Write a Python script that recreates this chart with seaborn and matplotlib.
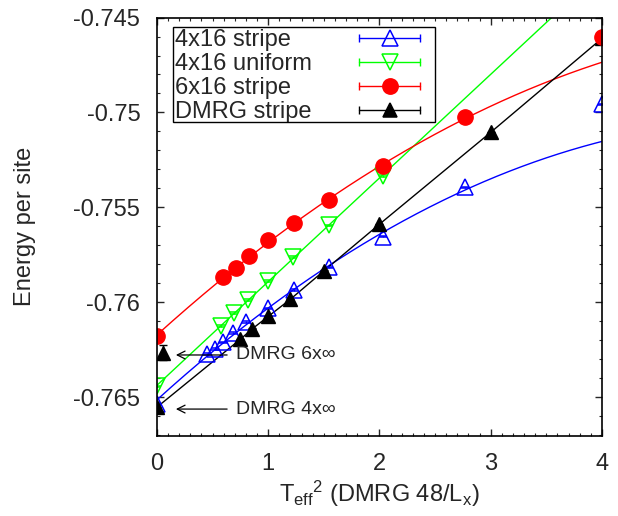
import numpy as np
import matplotlib
matplotlib.use("Agg")
import matplotlib.pyplot as plt
import seaborn as sns
from matplotlib.lines import Line2D
from matplotlib.patches import Rectangle
from matplotlib.ticker import MultipleLocator

# 4x16 stripe
stripe4_x = [0.0, 0.45, 0.52, 0.59, 0.68, 0.80, 1.0, 1.23, 1.55, 2.03, 2.77, 4.0]
stripe4_y = [-0.76537, -0.76274, -0.76247, -0.76211, -0.76163, -0.76105,
             -0.76033, -0.75935, -0.75817, -0.75654, -0.75395, -0.74958]
stripe4_err = [0.00004] * len(stripe4_x)

# 4x16 uniform
unif4_x = [0.0, 0.58, 0.69, 0.82, 1.0, 1.22, 1.55, 2.03]
unif4_y = [-0.76444, -0.76125, -0.76056, -0.75988, -0.75888, -0.75762, -0.75595, -0.75335]
unif4_err = [0.00004] * len(unif4_x)

# 6x16 stripe
stripe6_x = [0.0, 0.59, 0.71, 0.83, 1.0, 1.23, 1.55, 2.03, 2.77, 4.0]
stripe6_y = [-0.76179, -0.75868, -0.75821, -0.75758, -0.75674, -0.75584,
             -0.75463, -0.75284, -0.75026, -0.74600]
stripe6_err = [0.00004] * len(stripe6_x)

# DMRG stripe (x = 48/Lx)
dmrg_x = [0.0, 0.75, 0.857, 1.0, 1.2, 1.5, 2.0, 3.0, 4.0]
dmrg_y = [-0.76553, -0.76195, -0.76140, -0.76075, -0.75984, -0.75835, -0.75589, -0.75105, -0.74610]
dmrg_err = [0.00003] * len(dmrg_x)

# DMRG 6 x infinity
dmrg6_x = [0.05]
dmrg6_y = [-0.76265]
dmrg6_err = [0.0004]

labels = ["4x16 stripe", "4x16 uniform", "6x16 stripe", "DMRG stripe"]
blue, green, red = "#0000ff", "#00ff00", "#ff0000"

sns.set_style("ticks")
plt.rcParams['font.family'] = ['Liberation Sans', 'DejaVu Sans']
plt.rcParams['mathtext.default'] = 'regular'

fig = plt.figure(figsize=(6.18, 5.16), dpi=100)
ax = fig.add_axes([0.254, 0.155, 0.720, 0.811])

# fits through the data
xfit = np.linspace(0, 4, 400)
sx, sy = np.array(stripe4_x), np.array(stripe4_y)
blue_fit = np.polyval(np.polyfit(sx[sx < 3], sy[sx < 3], 2), xfit)
rx, ry = np.array(stripe6_x), np.array(stripe6_y)
red_fit = np.polyval(np.polyfit(rx[rx < 3], ry[rx < 3], 2), xfit)
green_fit = np.polyval(np.polyfit(unif4_x, unif4_y, 1), xfit)

sns.lineplot(x=xfit, y=blue_fit, color=blue, lw=1, ax=ax)
sns.lineplot(x=xfit, y=green_fit, color=green, lw=1, ax=ax)
sns.lineplot(x=xfit, y=red_fit, color=red, lw=1, ax=ax)
sns.lineplot(x=dmrg_x, y=dmrg_y, color="black", lw=1, ax=ax)

ebk = dict(ls="none", capsize=3, elinewidth=1, capthick=1)
ax.errorbar(stripe4_x, stripe4_y, yerr=stripe4_err, fmt="^", ms=11, mfc="none",
            mec=blue, mew=1.1, ecolor=blue, **ebk)
ax.errorbar(unif4_x, unif4_y, yerr=unif4_err, fmt="v", ms=11, mfc="none",
            mec=green, mew=1.1, ecolor=green, **ebk)
ax.errorbar(dmrg_x, dmrg_y, yerr=dmrg_err, fmt="^", ms=10, color="black", **ebk)
ax.errorbar(dmrg6_x, dmrg6_y, yerr=dmrg6_err, fmt="^", ms=10, color="black", **ebk)
ax.errorbar(stripe6_x, stripe6_y, yerr=stripe6_err, fmt="o", ms=11, color=red, **ebk)

ax.annotate("DMRG 6x\u221e", xy=(0.17, -0.76278), xytext=(0.71, -0.76278),
            fontsize=14, va="center",
            arrowprops=dict(arrowstyle="->", color="black", lw=0.9, shrinkA=4, shrinkB=0))
ax.annotate("DMRG 4x\u221e", xy=(0.17, -0.76563), xytext=(0.71, -0.76563),
            fontsize=14, va="center",
            arrowprops=dict(arrowstyle="->", color="black", lw=0.9, shrinkA=4, shrinkB=0))

ax.set_xlim(0, 4)
ax.set_ylim(-0.76705, -0.745)
ax.set_xticks([0, 1, 2, 3, 4])
ax.set_yticks([-0.765, -0.76, -0.755, -0.75, -0.745])
ax.set_yticklabels(["-0.765", "-0.76", "-0.755", "-0.75", "-0.745"])
ax.xaxis.set_minor_locator(MultipleLocator(0.1))
ax.yaxis.set_minor_locator(MultipleLocator(0.001))
ax.tick_params(which="both", direction="in", top=True, right=True, labelsize=17, pad=12)
ax.tick_params(which="major", length=5, width=1)
ax.tick_params(which="minor", length=2.5, width=0.8)
for s in ax.spines.values():
    s.set_linewidth(1.2)
    s.set_color("black")

ax.set_xlabel(r"T$_{eff}$$^2$ (DMRG 48/L$_x$)", fontsize=17, labelpad=3)
ax.set_ylabel("Energy per site", fontsize=17, labelpad=27)


# legend sample drawn at the right end of a wide handle box, text left-aligned over it
class RightSample:
    def __init__(self, color, marker, mfc, ms, seg=44.0, gap=9.0):
        self.color, self.marker, self.mfc, self.ms = color, marker, mfc, ms
        self.seg, self.gap = seg, gap

    def legend_artist(self, legend, orig_handle, fontsize, handlebox):
        x0, y0 = -handlebox.xdescent, -handlebox.ydescent
        xb = x0 + handlebox.width - self.gap
        xa = xb - self.seg
        ym = y0 + handlebox.height / 2
        line = Line2D([xa, xb], [ym, ym], color=self.color, lw=1,
                      marker="|", ms=6, mew=1)
        mark = Line2D([(xa + xb) / 2], [ym], ls="none", marker=self.marker, ms=self.ms,
                      mfc=self.mfc, mec=self.color, mew=1.1)
        handlebox.add_artist(line)
        handlebox.add_artist(mark)
        return line


styles = [(blue, "^", "none", 11), (green, "v", "none", 11),
          (red, "o", red, 11), ("black", "^", "black", 10)]
handles = [Line2D([], [], color=c) for c, _, _, _ in styles]
hmap = {h: RightSample(*st) for h, st in zip(handles, styles)}
hlen = 10.9
leg = ax.legend(handles, labels, handler_map=hmap, loc="upper left",
                bbox_to_anchor=(0.036, 0.978), borderaxespad=0, fontsize=17,
                handlelength=hlen, handletextpad=-hlen, labelspacing=0.08,
                borderpad=0.1, frameon=False)
ax.add_patch(Rectangle((0.036, 0.750), 0.589, 0.227, transform=ax.transAxes,
                       fill=False, edgecolor="black", lw=1.0, zorder=6))

fig.savefig("out.png", dpi=100)
